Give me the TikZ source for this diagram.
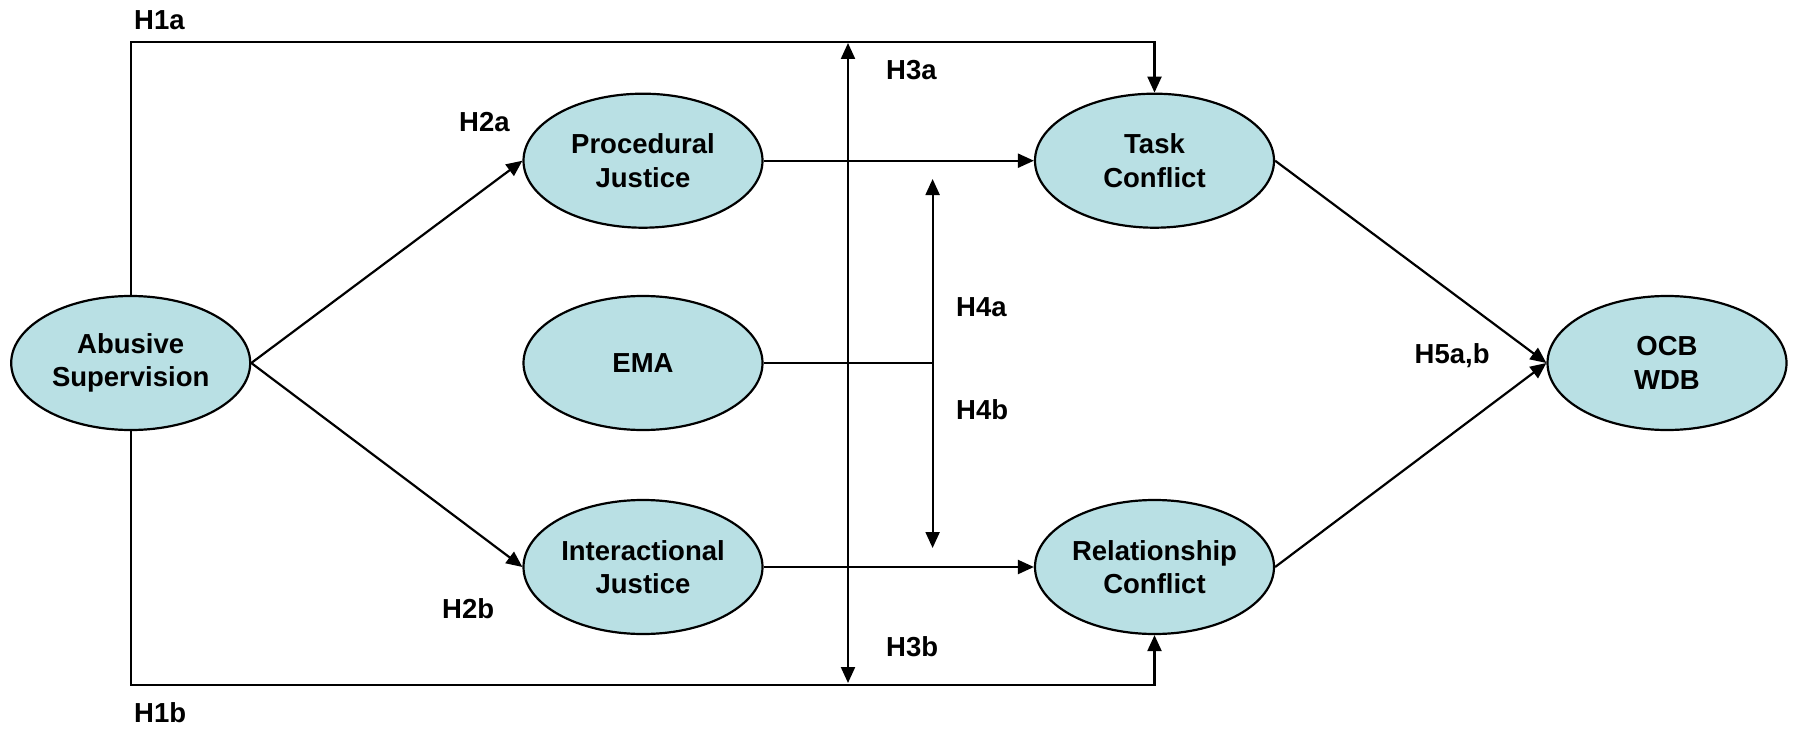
\documentclass[tikz,border=0pt]{standalone}
\usepackage{fontspec}
\setmainfont{Liberation Sans}
\usetikzlibrary{arrows.meta,shapes.geometric}
\definecolor{constructfill}{RGB}{185,224,228}
\begin{document}
\begin{tikzpicture}[x=1pt,y=-1pt,
  construct/.style={ellipse,draw=black,line width=2.2pt,fill=constructfill,
    minimum width=239pt,minimum height=134pt,inner sep=0pt,align=center,
    font=\fontsize{27.5}{33.5}\selectfont\bfseries},
  hyp/.style={anchor=base west,inner sep=0pt,font=\fontsize{27.5}{33}\selectfont\bfseries},
  link/.style={line width=2.2pt,draw=black},
  tip/.style={-{Triangle[length=16pt,width=14pt]}},
  bitip/.style={{Triangle[length=16pt,width=14pt]}-{Triangle[length=16pt,width=14pt]}}]
\useasboundingbox[fill=white] (0,0) rectangle (1796,733);

% constructs
\node[construct] (abs) at (130.7,363) {Abusive\\Supervision};
\node[construct] (pj)  at (643,160.7) {Procedural\\Justice};
\node[construct] (ema) at (643,363) {EMA};
\node[construct] (ij)  at (643,567) {Interactional\\Justice};
\node[construct] (tc)  at (1154.5,160.7) {Task\\Conflict};
\node[construct] (rc)  at (1154.5,567) {Relationship\\Conflict};
\node[construct] (ocb) at (1667,363) {OCB\\WDB};

% routing coordinates
\coordinate (topy) at (0,42);
\coordinate (boty) at (0,685);
\coordinate (modA) at (848,43);
\coordinate (modB) at (848,683);
\coordinate (emaTop) at (932.6,179);
\coordinate (emaBot) at (932.6,548);
\coordinate (emaJoin) at (932.6,363);

% direct paths
\draw[link,tip] (abs.north) -- (abs.north |- topy) -- (tc.north |- topy) -- (tc.north);
\draw[link,tip] (abs.south) -- (abs.south |- boty) -- (rc.south |- boty) -- (rc.south);
\draw[link,tip] (abs.east) -- (pj.west);
\draw[link,tip] (abs.east) -- (ij.west);
\draw[link,tip] (pj.east) -- (tc.west);
\draw[link,tip] (ij.east) -- (rc.west);
\draw[link,tip] (tc.east) -- (ocb.west);
\draw[link,tip] (rc.east) -- (ocb.west);

% moderation
\draw[link,bitip] (modA) -- (modB);
\draw[link,bitip] (emaTop) -- (emaBot);
\draw[link] (ema.east) -- (emaJoin);

% hypothesis labels
\node[hyp] (h1a) at (134,29.5) {H1a};
\node[hyp] (h1b) at (134,722.5) {H1b};
\node[hyp] (h2a) at (459,131.5) {H2a};
\node[hyp] (h2b) at (442,618.3) {H2b};
\node[hyp] (h3a) at (886,80) {H3a};
\node[hyp] (h3b) at (886,656) {H3b};
\node[hyp] (h4a) at (956,316.7) {H4a};
\node[hyp] (h4b) at (956,419) {H4b};
\node[hyp] (h5) at (1414.5,363) {H5a,b};
\end{tikzpicture}
\end{document}
